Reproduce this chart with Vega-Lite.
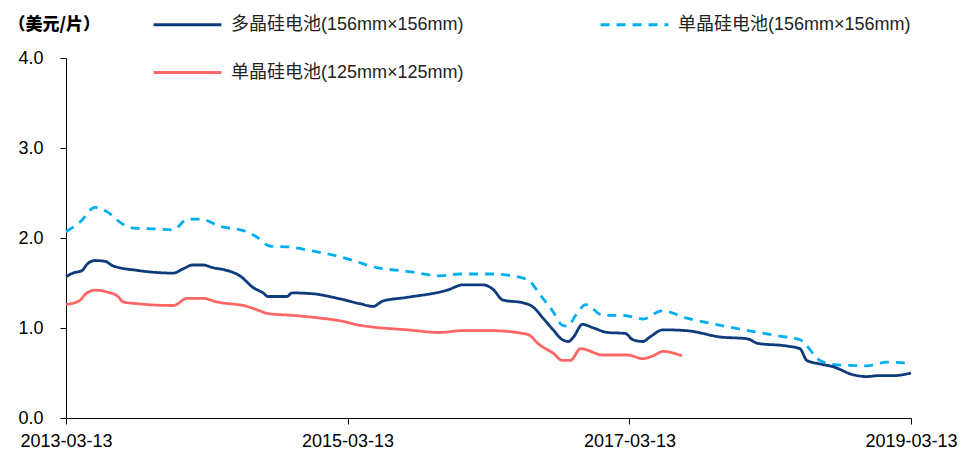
{
  "$schema": "https://vega.github.io/schema/vega-lite/v6.json",
  "width": 845,
  "height": 360,
  "autosize": {"type": "none"},
  "padding": {"left": 66, "top": 58, "right": 50, "bottom": 36},
  "background": "white",
  "datasets": {
    "poly": [
      {"d": "2013-03-13", "v": 1.57}, {"d": "2013-03-31", "v": 1.61}, {"d": "2013-04-24", "v": 1.64},
      {"d": "2013-05-07", "v": 1.71}, {"d": "2013-05-27", "v": 1.75}, {"d": "2013-06-23", "v": 1.74},
      {"d": "2013-07-13", "v": 1.69}, {"d": "2013-09-14", "v": 1.64}, {"d": "2013-12-16", "v": 1.61},
      {"d": "2014-01-12", "v": 1.66}, {"d": "2014-02-04", "v": 1.70}, {"d": "2014-03-03", "v": 1.70},
      {"d": "2014-03-29", "v": 1.67}, {"d": "2014-05-04", "v": 1.64}, {"d": "2014-06-07", "v": 1.58},
      {"d": "2014-07-11", "v": 1.45}, {"d": "2014-08-06", "v": 1.39}, {"d": "2014-08-19", "v": 1.35},
      {"d": "2014-10-07", "v": 1.35}, {"d": "2014-10-20", "v": 1.39}, {"d": "2014-12-14", "v": 1.38},
      {"d": "2015-02-15", "v": 1.33}, {"d": "2015-04-14", "v": 1.27}, {"d": "2015-05-18", "v": 1.24},
      {"d": "2015-06-13", "v": 1.30}, {"d": "2015-08-14", "v": 1.34}, {"d": "2015-11-26", "v": 1.42},
      {"d": "2016-01-07", "v": 1.48}, {"d": "2016-02-28", "v": 1.48}, {"d": "2016-03-24", "v": 1.43},
      {"d": "2016-04-19", "v": 1.31}, {"d": "2016-06-10", "v": 1.28}, {"d": "2016-07-04", "v": 1.24},
      {"d": "2016-08-01", "v": 1.11}, {"d": "2016-08-27", "v": 0.98}, {"d": "2016-09-20", "v": 0.87},
      {"d": "2016-10-06", "v": 0.85}, {"d": "2016-10-19", "v": 0.90}, {"d": "2016-11-11", "v": 1.04},
      {"d": "2016-12-10", "v": 1.00}, {"d": "2017-01-15", "v": 0.95}, {"d": "2017-03-02", "v": 0.94},
      {"d": "2017-03-22", "v": 0.87}, {"d": "2017-04-17", "v": 0.85}, {"d": "2017-05-05", "v": 0.90},
      {"d": "2017-06-08", "v": 0.98}, {"d": "2017-08-09", "v": 0.97}, {"d": "2017-11-04", "v": 0.90},
      {"d": "2018-01-13", "v": 0.88}, {"d": "2018-02-08", "v": 0.83}, {"d": "2018-04-25", "v": 0.80},
      {"d": "2018-05-29", "v": 0.77}, {"d": "2018-06-16", "v": 0.64}, {"d": "2018-07-20", "v": 0.60},
      {"d": "2018-08-23", "v": 0.57}, {"d": "2018-10-14", "v": 0.48}, {"d": "2018-11-19", "v": 0.46},
      {"d": "2018-12-15", "v": 0.47}, {"d": "2019-01-26", "v": 0.47}, {"d": "2019-03-13", "v": 0.50}
    ],
    "mono156": [
      {"d": "2013-03-13", "v": 2.07}, {"d": "2013-04-19", "v": 2.18}, {"d": "2013-05-27", "v": 2.34},
      {"d": "2013-06-28", "v": 2.29}, {"d": "2013-08-05", "v": 2.16}, {"d": "2013-09-03", "v": 2.11},
      {"d": "2013-11-05", "v": 2.10}, {"d": "2013-12-16", "v": 2.09}, {"d": "2014-01-22", "v": 2.21},
      {"d": "2014-02-25", "v": 2.21}, {"d": "2014-04-16", "v": 2.13}, {"d": "2014-06-25", "v": 2.07},
      {"d": "2014-07-21", "v": 2.01}, {"d": "2014-08-24", "v": 1.91}, {"d": "2014-10-15", "v": 1.90},
      {"d": "2014-12-06", "v": 1.86}, {"d": "2015-02-04", "v": 1.81}, {"d": "2015-03-27", "v": 1.75},
      {"d": "2015-05-18", "v": 1.68}, {"d": "2015-08-14", "v": 1.63}, {"d": "2015-11-08", "v": 1.58},
      {"d": "2015-12-30", "v": 1.60}, {"d": "2016-03-24", "v": 1.60}, {"d": "2016-06-21", "v": 1.54},
      {"d": "2016-07-24", "v": 1.37}, {"d": "2016-08-27", "v": 1.18}, {"d": "2016-09-20", "v": 1.03},
      {"d": "2016-10-03", "v": 1.02}, {"d": "2016-10-29", "v": 1.17}, {"d": "2016-11-19", "v": 1.26},
      {"d": "2017-01-04", "v": 1.14}, {"d": "2017-02-25", "v": 1.14}, {"d": "2017-04-17", "v": 1.10},
      {"d": "2017-06-05", "v": 1.19}, {"d": "2017-08-09", "v": 1.11}, {"d": "2017-11-04", "v": 1.03},
      {"d": "2018-01-29", "v": 0.96}, {"d": "2018-04-07", "v": 0.91}, {"d": "2018-05-29", "v": 0.87},
      {"d": "2018-07-20", "v": 0.64}, {"d": "2018-09-02", "v": 0.59}, {"d": "2018-11-19", "v": 0.58},
      {"d": "2019-01-10", "v": 0.62}, {"d": "2019-03-02", "v": 0.61}
    ],
    "mono125": [
      {"d": "2013-03-13", "v": 1.26}, {"d": "2013-04-19", "v": 1.31}, {"d": "2013-05-01", "v": 1.37},
      {"d": "2013-05-27", "v": 1.42}, {"d": "2013-06-28", "v": 1.40}, {"d": "2013-07-26", "v": 1.35},
      {"d": "2013-08-08", "v": 1.29}, {"d": "2013-09-14", "v": 1.27}, {"d": "2013-12-16", "v": 1.25},
      {"d": "2014-01-22", "v": 1.33}, {"d": "2014-03-03", "v": 1.33}, {"d": "2014-04-08", "v": 1.29},
      {"d": "2014-06-25", "v": 1.24}, {"d": "2014-07-29", "v": 1.19}, {"d": "2014-08-19", "v": 1.16},
      {"d": "2014-10-23", "v": 1.14}, {"d": "2015-01-01", "v": 1.11}, {"d": "2015-02-22", "v": 1.08},
      {"d": "2015-04-14", "v": 1.03}, {"d": "2015-05-18", "v": 1.01}, {"d": "2015-08-14", "v": 0.98},
      {"d": "2015-11-08", "v": 0.95}, {"d": "2015-12-30", "v": 0.97}, {"d": "2016-03-24", "v": 0.97},
      {"d": "2016-06-21", "v": 0.93}, {"d": "2016-07-24", "v": 0.81}, {"d": "2016-08-27", "v": 0.72},
      {"d": "2016-09-20", "v": 0.64}, {"d": "2016-10-11", "v": 0.64}, {"d": "2016-11-06", "v": 0.77},
      {"d": "2017-01-04", "v": 0.70}, {"d": "2017-03-07", "v": 0.70}, {"d": "2017-04-17", "v": 0.66},
      {"d": "2017-05-13", "v": 0.69}, {"d": "2017-06-08", "v": 0.74}, {"d": "2017-07-27", "v": 0.69}
    ]
  },
  "layer": [
    {
      "data": {"name": "mono156"},
      "transform": [{"calculate": "'单晶硅电池(156mm×156mm)'", "as": "s"}],
      "mark": {"type": "line", "interpolate": "monotone"},
      "encoding": {
        "x": {"field": "d", "type": "temporal"},
        "y": {"field": "v", "type": "quantitative"},
        "color": {"field": "s", "type": "nominal"},
        "strokeDash": {"field": "s", "type": "nominal"},
        "strokeWidth": {"field": "s", "type": "nominal"}
      }
    },
    {
      "data": {"name": "mono125"},
      "transform": [{"calculate": "'单晶硅电池(125mm×125mm)'", "as": "s"}],
      "mark": {"type": "line", "interpolate": "monotone"},
      "encoding": {
        "x": {"field": "d", "type": "temporal"},
        "y": {"field": "v", "type": "quantitative"},
        "color": {"field": "s", "type": "nominal"},
        "strokeDash": {"field": "s", "type": "nominal"},
        "strokeWidth": {"field": "s", "type": "nominal"}
      }
    },
    {
      "data": {"name": "poly"},
      "transform": [{"calculate": "'多晶硅电池(156mm×156mm)'", "as": "s"}],
      "mark": {"type": "line", "interpolate": "monotone"},
      "encoding": {
        "x": {
          "field": "d", "type": "temporal",
          "scale": {"type": "utc", "domain": [{"year": 2013, "month": 3, "date": 13, "utc": true}, {"year": 2019, "month": 3, "date": 13, "utc": true}]},
          "axis": {
            "title": null,
            "values": [
              {"year": 2013, "month": 3, "date": 13, "utc": true},
              {"year": 2015, "month": 3, "date": 13, "utc": true},
              {"year": 2017, "month": 3, "date": 13, "utc": true},
              {"year": 2019, "month": 3, "date": 13, "utc": true}
            ],
            "format": "%Y-%m-%d",
            "labelPadding": 8,
            "labelOverlap": false,
            "labelFlush": false
          }
        },
        "y": {
          "field": "v", "type": "quantitative",
          "scale": {"domain": [0, 4], "nice": false},
          "axis": {
            "values": [0, 1, 2, 3, 4],
            "format": ".1f",
            "title": "（美元/片）",
            "titleAngle": 0,
            "titleAlign": "left",
            "titleBaseline": "middle",
            "titleX": -58,
            "titleY": -34,
            "titleFont": "Noto Sans CJK SC",
            "titleFontSize": 17,
            "titleFontWeight": 900,
            "labelPadding": 17
          }
        },
        "color": {
          "field": "s", "type": "nominal",
          "scale": {
            "domain": ["多晶硅电池(156mm×156mm)", "单晶硅电池(156mm×156mm)", "单晶硅电池(125mm×125mm)"],
            "range": ["#0E3B7C", "#00AEEF", "#FF6666"]
          },
          "legend": {"title": null}
        },
        "strokeDash": {
          "field": "s", "type": "nominal",
          "scale": {
            "domain": ["多晶硅电池(156mm×156mm)", "单晶硅电池(156mm×156mm)", "单晶硅电池(125mm×125mm)"],
            "range": [[1, 0], [9, 7], [1, 0]]
          },
          "legend": {"title": null}
        },
        "strokeWidth": {
          "field": "s", "type": "nominal",
          "scale": {
            "domain": ["多晶硅电池(156mm×156mm)", "单晶硅电池(156mm×156mm)", "单晶硅电池(125mm×125mm)"],
            "range": [2.8, 2.8, 4.5]
          },
          "legend": {"title": null}
        }
      }
    }
  ],
  "config": {
    "view": {"stroke": null},
    "font": "Liberation Sans",
    "axis": {
      "grid": false,
      "domainColor": "#000000",
      "domainWidth": 1,
      "tickColor": "#000000",
      "tickSize": 6,
      "tickWidth": 1,
      "labelColor": "#000000",
      "labelFont": "Liberation Sans",
      "labelFontSize": 18,
      "titleColor": "#000000"
    },
    "legend": {
      "orient": "none",
      "legendX": 86,
      "legendY": -69,
      "direction": "horizontal",
      "columns": 2,
      "columnPadding": 130,
      "rowPadding": 3,
      "symbolType": "stroke",
      "symbolSize": 4600,
      "symbolOffset": 0,
      "labelOffset": 8,
      "labelFont": "Liberation Sans, Noto Sans CJK SC",
      "labelFontSize": 18,
      "labelColor": "#222222",
      "labelLimit": 400
    }
  }
}
